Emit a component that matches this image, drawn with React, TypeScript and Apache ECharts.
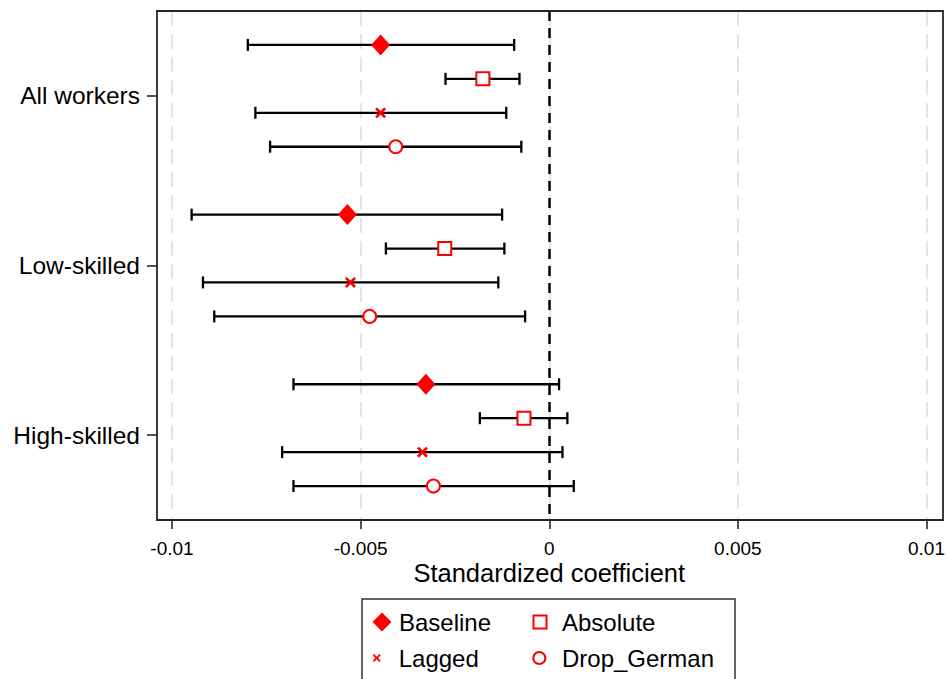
import React, { useEffect, useRef } from "react";
import * as echarts from "echarts";

// Values in units of 0.001 (converted below)
const groups = ["All workers", "Low-skilled", "High-skilled"];
const models = ["Baseline", "Absolute", "Lagged", "Drop_German"];

const baselineCoef = [-4.47, -5.35, -3.27];
const baselineLo = [-7.99, -9.48, -6.78];
const baselineHi = [-0.93, -1.25, 0.26];

const absoluteCoef = [-1.76, -2.77, -0.67];
const absoluteLo = [-2.75, -4.33, -1.84];
const absoluteHi = [-0.79, -1.19, 0.48];

const laggedCoef = [-4.47, -5.27, -3.36];
const laggedLo = [-7.79, -9.18, -7.08];
const laggedHi = [-1.14, -1.35, 0.35];

const dropCoef = [-4.07, -4.76, -3.07];
const dropLo = [-7.4, -8.88, -6.78];
const dropHi = [-0.74, -0.64, 0.65];

const FONT = "'Liberation Sans', Arial, sans-serif";
const RED = "#ff0000";

export default function App() {
  const ref = useRef<HTMLDivElement>(null);

  useEffect(() => {
    if (!ref.current) return;
    const chart = echarts.init(ref.current, null, { renderer: "svg" });

    const coefs = [baselineCoef, absoluteCoef, laggedCoef, dropCoef];
    const los = [baselineLo, absoluteLo, laggedLo, dropLo];
    const his = [baselineHi, absoluteHi, laggedHi, dropHi];

    const rowPos = (g: number, m: number) => g * 5 + m + 1;

    const ciData: number[][] = [];
    models.forEach((_, m) => {
      groups.forEach((__, g) => {
        ciData.push([los[m][g] / 1000, his[m][g] / 1000, rowPos(g, m)]);
      });
    });

    const pointData = (m: number) =>
      groups.map((_, g) => [coefs[m][g] / 1000, rowPos(g, m)]);

    const crossPath =
      "path://M0,1.7L1.7,0L5,3.3L8.3,0L10,1.7L6.7,5L10,8.3L8.3,10L5,6.7L1.7,10L0,8.3L3.3,5Z";

    const symbolDefs: any = {
      Baseline: { symbol: "diamond", size: [19, 21], style: { color: RED, borderWidth: 0, opacity: 1 } },
      Absolute: { symbol: "rect", size: 13, style: { color: "#fff", borderColor: RED, borderWidth: 2, opacity: 1 } },
      Lagged: { symbol: crossPath, size: 11, style: { color: RED, borderWidth: 0, opacity: 1 } },
      Drop_German: { symbol: "circle", size: 13, style: { color: "#fff", borderColor: RED, borderWidth: 2, opacity: 1 } },
    };

    const legendDefs = [
      { name: "Baseline", left: 372.5, cy: 622, w: 19, h: 19, pad: 2.5 },
      { name: "Lagged", left: 372.7, cy: 658, w: 8, h: 8, pad: 13 },
      { name: "Absolute", left: 532.5, cy: 622, w: 13, h: 13, pad: 10.5 },
      { name: "Drop_German", left: 532.3, cy: 658, w: 12, h: 12, pad: 11.7 },
    ];
    const legendFont = 24;

    const option: any = {
      animation: false,
      backgroundColor: "#fff",
      textStyle: { fontFamily: FONT },
      grid: { left: 172, right: 20, top: 11, bottom: 159, containLabel: false },
      xAxis: {
        type: "value",
        min: -0.01,
        max: 0.01,
        interval: 0.005,
        axisLine: { show: false, onZero: false },
        axisTick: { show: true, length: 9, lineStyle: { color: "#1a1a1a", width: 1.5 } },
        axisLabel: {
          color: "#000",
          fontSize: 19,
          lineHeight: 16,
          fontFamily: FONT,
          margin: 20,
          formatter: (v: number) => {
            const r = Math.round(v * 1000) / 1000;
            return r === 0 ? "0" : String(r);
          },
        },
        splitLine: {
          show: true,
          lineStyle: { color: "#dcdcdc", width: 1.5, type: [15, 8] },
        },
        name: "Standardized coefficient",
        nameLocation: "middle",
        nameGap: 42,
        nameMoveOverlap: false,
        nameTextStyle: { color: "#000", fontSize: 25.5, lineHeight: 22, fontFamily: FONT },
      },
      yAxis: {
        type: "value",
        min: 0,
        max: 15,
        inverse: true,
        offset: 15,
        axisLine: { show: false, onZero: false },
        axisTick: {
          show: true,
          length: 10,
          customValues: [2.5, 7.5, 12.5],
          lineStyle: { color: "#1a1a1a", width: 1.5 },
        },
        axisLabel: {
          customValues: [2.5, 7.5, 12.5],
          color: "#000",
          fontSize: 24.5,
          fontFamily: FONT,
          margin: 17,
          formatter: (v: number) => {
            const idx = Math.round((v - 2.5) / 5);
            return groups[idx] ?? "";
          },
        },
        splitLine: { show: false },
      },
      legend: legendDefs.map((l) => ({
        data: [l.name],
        left: l.left,
        top: l.cy - legendFont / 2,
        padding: 0,
        itemWidth: l.w,
        itemHeight: l.h,
        selectedMode: false,
        textStyle: {
          color: "#000",
          fontSize: legendFont,
          fontFamily: FONT,
          padding: [0, 0, 0, l.pad],
        },
      })),
      graphic: [
        {
          type: "rect",
          shape: { x: 157, y: 11, width: 786, height: 509 },
          style: { fill: "none", stroke: "#262626", lineWidth: 1.8 },
          z: 100,
          silent: true,
        },
        {
          type: "rect",
          shape: { x: 362, y: 599, width: 373, height: 100 },
          style: { fill: "none", stroke: "#333", lineWidth: 1.5 },
          z: 100,
          silent: true,
        },
      ],
      series: [
        {
          type: "custom",
          name: "CI",
          data: ciData,
          encode: { x: [0, 1], y: 2 },
          z: 2,
          silent: true,
          markLine: {
            silent: true,
            symbol: "none",
            label: { show: false },
            lineStyle: { color: "#000", width: 2.5, type: [10, 7], opacity: 1 },
            emphasis: { disabled: true },
            data: [{ xAxis: 0 }],
          },
          renderItem: (params: any, api: any) => {
            const lo = api.coord([api.value(0), api.value(2)]);
            const hi = api.coord([api.value(1), api.value(2)]);
            const cap = 6;
            const style = { stroke: "#000", lineWidth: 2.3 };
            return {
              type: "group",
              children: [
                { type: "line", shape: { x1: lo[0], y1: lo[1], x2: hi[0], y2: hi[1] }, style },
                { type: "line", shape: { x1: lo[0], y1: lo[1] - cap, x2: lo[0], y2: lo[1] + cap }, style },
                { type: "line", shape: { x1: hi[0], y1: hi[1] - cap, x2: hi[0], y2: hi[1] + cap }, style },
              ],
            };
          },
        },
        ...models.map((name, m) => ({
          type: "scatter",
          name,
          data: pointData(m),
          symbol: symbolDefs[name].symbol,
          symbolSize: symbolDefs[name].size,
          itemStyle: symbolDefs[name].style,
          z: 5,
          silent: true,
        })),
      ],
    };

    chart.setOption(option);
    return () => chart.dispose();
  }, []);

  return (
    <div
      ref={ref}
      style={{ position: "fixed", left: 0, top: 0, width: 948, height: 679, background: "#fff" }}
    />
  );
}
